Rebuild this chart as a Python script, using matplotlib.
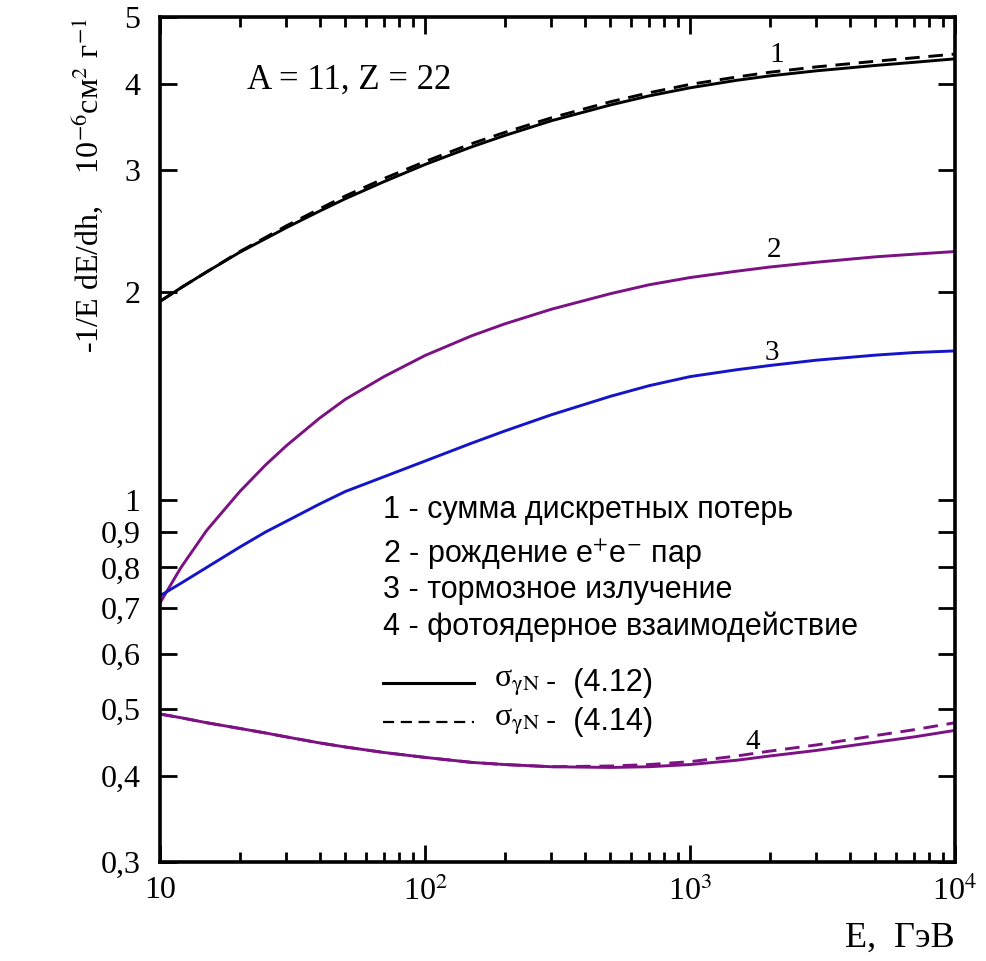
import matplotlib
matplotlib.use("Agg")
import matplotlib.pyplot as plt
from matplotlib.ticker import FixedLocator, FixedFormatter, NullLocator, LogLocator, NullFormatter

plt.rcParams['font.family'] = ['Liberation Serif', 'DejaVu Serif']
plt.rcParams['mathtext.fontset'] = 'stix'

# Data (E in GeV)
energy = [10, 12, 15, 20, 25, 30, 40, 50, 70, 100, 150, 200, 300, 500, 700,
          1000, 1500, 2000, 3000, 5000, 7000, 10000]

# 1 - сумма дискретных потерь
sum_412 = [1.94, 2.03, 2.14, 2.285, 2.39, 2.48, 2.62, 2.73, 2.89, 3.06, 3.245, 3.37, 3.54,
           3.73, 3.845, 3.95, 4.05, 4.11, 4.18, 4.255, 4.30, 4.35]
sum_414 = [1.94, 2.03, 2.14, 2.29, 2.40, 2.495, 2.64, 2.755, 2.92, 3.09, 3.28, 3.405, 3.575,
           3.77, 3.885, 3.995, 4.095, 4.16, 4.235, 4.315, 4.365, 4.42]
# 2 - рождение e+e- пар
pair = [0.711, 0.80, 0.905, 1.03, 1.125, 1.20, 1.315, 1.40, 1.51, 1.62, 1.73, 1.80, 1.89,
        1.99, 2.05, 2.10, 2.145, 2.175, 2.21, 2.25, 2.27, 2.29]
# 3 - тормозное излучение
brems = [0.728, 0.759, 0.80, 0.856, 0.90, 0.933, 0.988, 1.03, 1.082, 1.14, 1.21, 1.26, 1.33,
         1.414, 1.465, 1.51, 1.545, 1.567, 1.595, 1.622, 1.636, 1.645]
# 4 - фотоядерное взаимодействие
photo_412 = [0.491, 0.485, 0.477, 0.468, 0.461, 0.455, 0.446, 0.440, 0.432, 0.425, 0.418,
             0.415, 0.412, 0.411, 0.412, 0.415, 0.421, 0.427, 0.435, 0.447, 0.455, 0.465]
photo_414 = [0.491, 0.485, 0.477, 0.468, 0.461, 0.455, 0.446, 0.440, 0.432, 0.425, 0.418,
             0.415, 0.412, 0.413, 0.415, 0.419, 0.427, 0.434, 0.443, 0.457, 0.466, 0.477]

ytick_vals = [0.3, 0.4, 0.5, 0.6, 0.7, 0.8, 0.9, 1, 2, 3, 4, 5]
ytick_text = ['0,3', '0,4', '0,5', '0,6', '0,7', '0,8', '0,9', '1', '2', '3', '4', '5']
xtick_vals = [10, 100, 1000, 10000]
xtick_text = ['10', '10$^2$', '10$^3$', '10$^4$']

legend_lines = ['1 - сумма дискретных потерь',
                '2 - рождение e$^{+}$e$^{-}$ пар',
                '3 - тормозное излучение',
                '4 - фотоядерное взаимодействие']

black = '#000000'
purple = '#7b1183'
blue = '#1414c8'
dash = (0, (5, 3))

fig = plt.figure(figsize=(9.86, 9.61), dpi=100)
ax = fig.add_axes([0.1623, 0.1030, 0.8063, 0.8793])

lw = 2.1
ax.plot(energy, sum_412, color=black, lw=lw)
ax.plot(energy, sum_414, color=black, lw=lw, ls=dash)
ax.plot(energy, pair, color=purple, lw=lw)
ax.plot(energy, brems, color=blue, lw=lw)
ax.plot(energy, photo_412, color=purple, lw=lw)
ax.plot(energy, photo_414, color=purple, lw=lw, ls=dash)

ax.set_xscale('log')
ax.set_yscale('log')
ax.set_xlim(10, 10000)
ax.set_ylim(0.3, 5)

ax.yaxis.set_major_locator(FixedLocator(ytick_vals))
ax.yaxis.set_major_formatter(FixedFormatter(ytick_text))
ax.yaxis.set_minor_locator(NullLocator())
ax.xaxis.set_major_locator(FixedLocator(xtick_vals))
ax.xaxis.set_major_formatter(FixedFormatter(xtick_text))
ax.xaxis.set_minor_locator(LogLocator(base=10, subs=range(2, 10)))
ax.xaxis.set_minor_formatter(NullFormatter())

ax.tick_params(which='both', direction='in', top=True, right=True, width=2, labelsize=23)
ax.tick_params(which='major', length=12)
ax.tick_params(which='minor', length=7)
ax.tick_params(axis='y', pad=14)
ax.tick_params(axis='x', pad=10)
for sp in ax.spines.values():
    sp.set_linewidth(2.6)

# curve numbers
ax.text(2130, 4.40, '1', fontsize=21, ha='center', va='center')
ax.text(2080, 2.30, '2', fontsize=21, ha='center', va='center')
ax.text(2040, 1.633, '3', fontsize=21, ha='center', va='center')
ax.text(1720, 0.448, '4', fontsize=21, ha='center', va='center')

ax.text(0.11, 0.915, 'A = 11, Z = 22', transform=ax.transAxes, fontsize=25)

# legend block
sans = ['Liberation Sans', 'DejaVu Sans']
ys = [0.4166, 0.3633, 0.3219, 0.2781]
for y, t in zip(ys, legend_lines):
    ax.text(0.28, y, t, transform=ax.transAxes, fontsize=22, family=sans, va='center')

ax.plot([0.28, 0.395], [0.2118, 0.2118], transform=ax.transAxes, color=black, lw=2.2)
ax.plot([0.28, 0.395], [0.1657, 0.1657], transform=ax.transAxes, color=black, lw=1.6,
        ls=dash)
for y, t in zip([0.2118, 0.1657], ['(4.12)', '(4.14)']):
    ax.text(0.42, y, 'σ$_{\\mathrm{γN}}$', transform=ax.transAxes, fontsize=23, va='center')
    ax.text(0.4855, y, '-  ' + t, transform=ax.transAxes, fontsize=22, family=sans, va='center')

fig.text(0.088, 0.982, '-1/E dE/dh,    10$^{-6}$см$^{2}$ г$^{-1}$', rotation=90,
         ha='center', va='top', fontsize=23)
fig.text(0.968, 0.006, 'E,  ГэВ', ha='right', va='bottom', fontsize=26)

fig.savefig('out.png', dpi=100, facecolor='white')
